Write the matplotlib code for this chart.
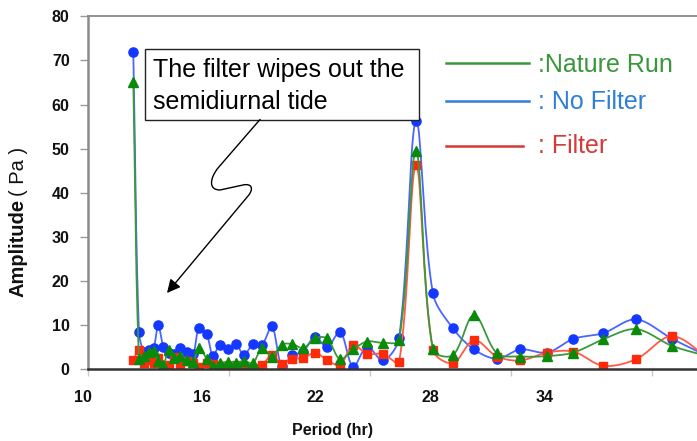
import numpy as np
import matplotlib
matplotlib.use('Agg')
import matplotlib.pyplot as plt
from matplotlib.path import Path
from matplotlib.patches import FancyArrowPatch, Rectangle
from matplotlib.lines import Line2D
from matplotlib.transforms import IdentityTransform, blended_transform_factory

plt.rcParams['font.family'] = ['Liberation Sans', 'DejaVu Sans']

# ---- data ----
period = [11.94, 12.18, 12.40, 12.59, 12.80, 13.00, 13.22, 13.44, 13.67, 13.93,
          14.22, 14.48, 14.74, 15.06, 15.33, 15.63, 15.97, 16.31, 16.65, 17.03,
          17.42, 17.84, 18.26, 18.71, 19.17, 19.67, 20.18, 20.74, 21.29, 21.89,
          22.57, 23.25, 23.97, 24.69, 25.54, 26.44, 27.42, 28.41, 29.56, 30.67,
          31.94, 33.34, 34.87, 36.57]
no_filter = [71.8, 8.4, 4.0, 4.3, 4.8, 10.0, 5.1, 3.6, 3.5, 4.9,
             4.0, 3.4, 9.4, 8.0, 3.0, 5.6, 4.5, 5.7, 3.2, 5.7,
             5.6, 9.7, 0.8, 3.2, 4.0, 7.4, 5.0, 8.5, 0.6, 5.1,
             2.0, 7.1, 56.3, 17.2, 9.3, 4.5, 2.4, 4.5, 3.8, 6.9,
             8.2, 11.3, 6.9, 2.5]
nature_run = [65.1, 2.4, 3.0, 3.9, 4.1, 1.8, 1.0, 4.4, 2.5, 3.0,
              2.2, 1.7, 4.9, 2.4, 0.7, 1.4, 1.7, 1.5, 1.9, 1.4,
              4.9, 2.9, 5.6, 5.7, 4.8, 7.0, 7.0, 2.3, 4.5, 6.3,
              6.0, 6.6, 49.5, 4.5, 3.2, 12.3, 3.6, 2.9, 3.0, 3.8,
              6.8, 9.1, 5.3, 2.7]
filtered = [2.1, 4.4, 1.5, 2.0, 1.4, 2.6, 0.8, 1.0, 2.8, 1.3,
            1.9, 1.4, 0.6, 1.4, 1.2, 0.6, 0.6, 1.0, 0.6, 0.3,
            1.0, 3.2, 1.3, 2.4, 2.5, 3.8, 2.1, 1.0, 5.5, 3.5,
            3.5, 1.6, 46.3, 4.4, 1.4, 6.6, 2.9, 2.0, 3.8, 4.0,
            0.8, 2.3, 7.5, 1.8]

x_tick_values = [10, 16, 22, 28, 34]
x_tick_labels = ['10', '16', '22', '28', '34']
x_label_positions = [9.79, 14.85, 19.67, 24.57, 29.46]
y_tick_values = [0, 10, 20, 30, 40, 50, 60, 70, 80]

legend_labels = [':Nature Run', ': No Filter', ': Filter']
annotation_lines = ['The filter wipes out the', 'semidiurnal tide']

# ---- figure ----
W, H = 697, 441
fig = plt.figure(figsize=(W / 100, H / 100), dpi=100)
fig.patch.set_facecolor('white')

def fx(x):
    return x / W

def fy(y):
    return 1 - y / H

ax_left, ax_right, ax_top, ax_bottom = 87.7, 697.0, 16.3, 369.3
ax = fig.add_axes([fx(ax_left), fy(ax_bottom), (ax_right - ax_left) / W,
                   (ax_bottom - ax_top) / H])
px_per_hr = 23.5
ax.set_xlim(10, 10 + (ax_right - ax_left) / px_per_hr)
ax.set_ylim(0, 80)
px_per_unit = (ax_bottom - ax_top) / 80.0


def smooth(x, y, sx, sy, n=20):
    """Chord-weighted cubic Bezier smoothing computed in pixel space."""
    pts = np.column_stack([np.asarray(x, float) * sx, np.asarray(y, float) * sy])
    P = np.vstack([pts[0], pts, pts[-1]])
    out = []
    t = np.linspace(0, 1, n)[:, None]
    for i in range(1, len(P) - 2):
        p0, p1, p2, p3 = P[i - 1], P[i], P[i + 1], P[i + 2]
        d01 = np.hypot(*(p1 - p0)) + 1e-9
        d12 = np.hypot(*(p2 - p1)) + 1e-9
        d23 = np.hypot(*(p3 - p2)) + 1e-9
        c1 = p1 + (p2 - p0) * d12 / (d01 + d12) / 3.0
        c2 = p2 - (p3 - p1) * d12 / (d12 + d23) / 3.0
        seg = (1 - t) ** 3 * p1 + 3 * (1 - t) ** 2 * t * c1 + 3 * (1 - t) * t ** 2 * c2 + t ** 3 * p2
        out.append(seg if i == 1 else seg[1:])
    out = np.vstack(out)
    return out[:, 0] / sx, out[:, 1] / sy


series = [
    (no_filter, '#4a66ff', '#1438ff', 'o', 6.6, 3),
    (filtered, '#ff5a45', '#ff2a0a', 's', 6.2, 4),
    (nature_run, '#3a9a3a', '#0a8a0a', '^', 7.0, 5),
]
for vals, lc, mc, mk, ms, z in series:
    sx_, sy_ = smooth(period, vals, px_per_hr, px_per_unit)
    ax.plot(sx_, sy_, color=lc, lw=1.3, zorder=z, solid_capstyle='round')
    ax.plot(period, vals, linestyle='none', marker=mk, ms=ms, color=mc,
            mec=mc, zorder=z + 0.5)

ax.spines['right'].set_visible(False)
ax.spines['top'].set_color('#8a8a8a')
ax.spines['top'].set_linewidth(1.3)
ax.spines['left'].set_color('#8a8a8a')
ax.spines['left'].set_linewidth(1.8)
ax.spines['bottom'].set_color('#333333')
ax.spines['bottom'].set_linewidth(1.8)
ax.spines['bottom'].set_zorder(10)

ax.set_xticks(x_tick_values)
ax.set_xticklabels([])
ax.tick_params(axis='x', direction='out', length=5, width=1, color='#c8c8c8')
ax.set_yticks(y_tick_values)
ax.set_yticklabels([str(v) for v in y_tick_values], fontsize=11.5,
                   fontweight='bold', color='#111111')
ax.tick_params(axis='y', direction='out', length=6, width=1, color='#9a9a9a', pad=7)

trans = blended_transform_factory(ax.transData, ax.transAxes)
label_y = (ax_bottom - 398.0) / (ax_bottom - ax_top)
for pos, lab in zip(x_label_positions, x_tick_labels):
    ax.text(pos, label_y, lab, transform=trans, ha='center', va='center',
            fontsize=11.5, fontweight='bold', color='#111111', clip_on=False)

fig.text(fx(333), fy(431), 'Period (hr)', ha='center', va='center',
         fontsize=11.5, fontweight='bold', color='#111111')
fig.text(fx(18.3), fy(248), 'Amplitude', rotation=90, ha='center', va='center',
         fontsize=14.5, fontweight='bold', color='#111111')
fig.text(fx(18.3), fy(171), '( Pa )', rotation=90, ha='center', va='center',
         fontsize=14.5, color='#111111')

# legend drawn as lines + coloured text
leg_colors = ['#3c963c', '#2f7ed8', '#d43a3a']
leg_line_y = [62.7, 100.7, 146.0]
leg_line_x1 = [529, 529, 522.7]
leg_text_base = [71.7, 109.3, 153.3]
for lab, c, ly, lx1, tb in zip(legend_labels, leg_colors, leg_line_y, leg_line_x1, leg_text_base):
    fig.add_artist(Line2D([fx(446), fx(lx1)], [fy(ly), fy(ly)], color=c, lw=1.8,
                          transform=fig.transFigure))
    fig.text(fx(537.5), fy(tb), lab, ha='left', va='baseline', fontsize=18, color=c)

# annotation box
fig.add_artist(Rectangle((fx(144.5), fy(119.5)), (418.5 - 144.5) / W, (119.5 - 49) / H,
                         transform=fig.transFigure, facecolor='white',
                         edgecolor='#222222', lw=1.0, zorder=6))
fig.text(fx(153.3), fy(76.7), annotation_lines[0], ha='left', va='baseline',
         fontsize=18, color='black', zorder=7)
fig.text(fx(152.7), fy(109), annotation_lines[1], ha='left', va='baseline',
         fontsize=18, color='black', zorder=7)

# lightning-style arrow
pts = [(260, 119.5), (218, 168), (210, 178), (208, 190), (220, 190), (243, 185),
       (252, 183), (254, 189), (248, 196), (167, 293)]
codes = [Path.MOVETO, Path.LINETO, Path.CURVE4, Path.CURVE4, Path.CURVE4, Path.LINETO,
         Path.CURVE4, Path.CURVE4, Path.CURVE4, Path.LINETO]
verts = [(x, H - y) for x, y in pts]
arrow = FancyArrowPatch(path=Path(verts, codes), arrowstyle='-|>,head_length=0.5,head_width=0.25',
                        mutation_scale=16, color='black', lw=1.0,
                        transform=IdentityTransform(), zorder=7)
fig.add_artist(arrow)

fig.savefig('out.png', dpi=100, facecolor='white')
